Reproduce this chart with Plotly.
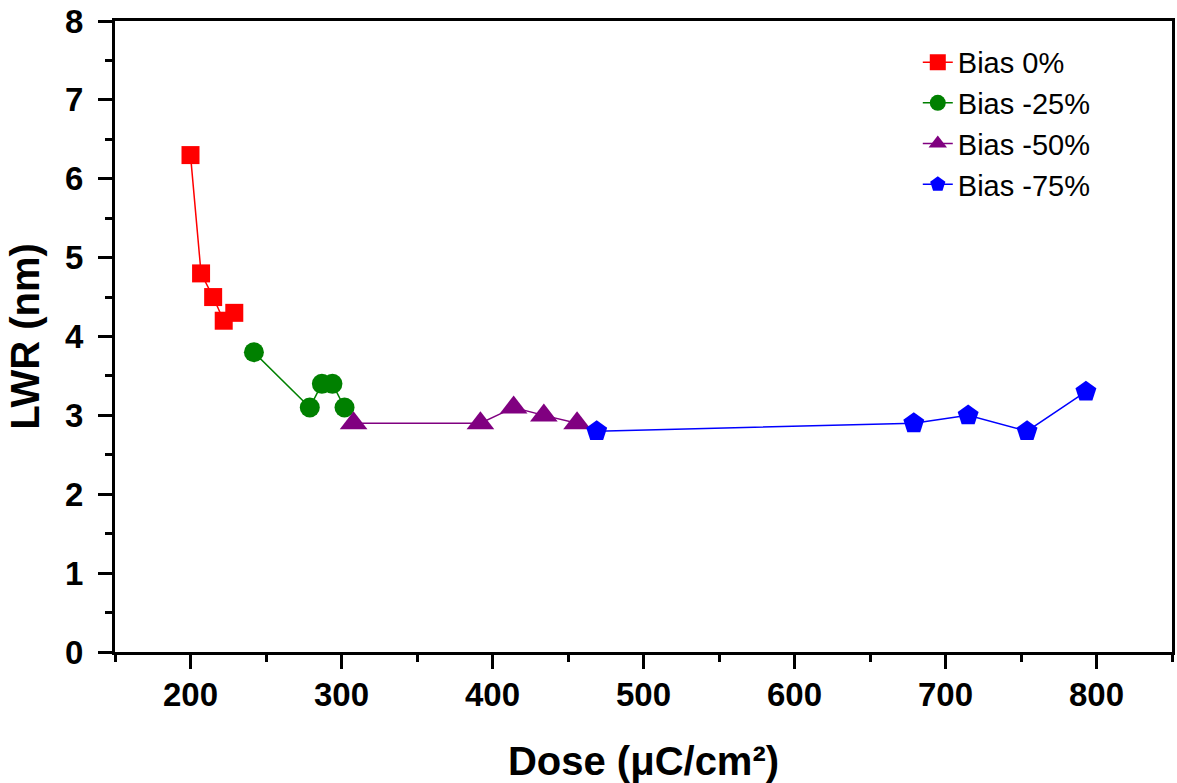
import plotly.graph_objects as go

# Data
series_names = ["Bias 0%", "Bias -25%", "Bias -50%", "Bias -75%"]
dose_bias0 = [200, 207, 215, 222, 229]
lwr_bias0 = [6.3, 4.8, 4.5, 4.2, 4.3]
dose_bias25 = [242, 279, 287, 294, 302]
lwr_bias25 = [3.8, 3.1, 3.4, 3.4, 3.1]
dose_bias50 = [308, 392, 414, 434, 456]
lwr_bias50 = [2.9, 2.9, 3.1, 3.0, 2.9]
dose_bias75 = [469, 679, 715, 754, 793]
lwr_bias75 = [2.8, 2.9, 3.0, 2.8, 3.3]

x_ticks = [200, 300, 400, 500, 600, 700, 800]
y_ticks = [0, 1, 2, 3, 4, 5, 6, 7, 8]

styles = [
    dict(color="#FF0000", symbol="square", size=18),
    dict(color="#008000", symbol="circle", size=20),
    dict(color="#800080", symbol="triangle-up", size=24),
    dict(color="#0000FF", symbol="pentagon", size=22),
]
xs = [dose_bias0, dose_bias25, dose_bias50, dose_bias75]
ys = [lwr_bias0, lwr_bias25, lwr_bias50, lwr_bias75]

FONT = "Liberation Sans, Arial, sans-serif"

fig = go.Figure()
for name, x, y, st in zip(series_names, xs, ys, styles):
    fig.add_trace(go.Scatter(
        x=x, y=y, name=name, mode="lines+markers",
        line=dict(color=st["color"], width=1.5),
        marker=dict(color=st["color"], symbol=st["symbol"], size=st["size"],
                    line=dict(width=0)),
    ))

axis_common = dict(
    showline=True, linecolor="black", linewidth=3, mirror=True,
    ticks="outside", ticklen=14, tickwidth=3, tickcolor="black",
    showgrid=False, zeroline=False, automargin=False,
    tickfont=dict(family=FONT, size=33, color="black", weight="bold"),
)

fig.update_layout(
    width=1177, height=783,
    margin=dict(l=115, r=5, t=21, b=131),
    paper_bgcolor="white", plot_bgcolor="white",
    font=dict(family=FONT, color="black"),
    xaxis=dict(
        range=[150, 850], tickvals=x_ticks,
        minor=dict(dtick=50, tick0=0, ticks="outside", ticklen=7,
                   tickwidth=3, tickcolor="black"),
        title=dict(text="Dose (μC/cm²)", standoff=36,
                   font=dict(family=FONT, size=40, color="black", weight="bold")),
        ticklabelstandoff=-3,
        **axis_common,
    ),
    yaxis=dict(
        range=[0, 8], tickvals=y_ticks,
        minor=dict(dtick=0.5, tick0=0, ticks="outside", ticklen=7,
                   tickwidth=3, tickcolor="black"),
        title=dict(text="LWR (nm)", standoff=14,
                   font=dict(family=FONT, size=40, color="black", weight="bold")),
        ticklabelstandoff=8,
        **axis_common,
    ),
    legend=dict(
        x=0.7595, y=0.975, xanchor="left", yanchor="top",
        bgcolor="rgba(0,0,0,0)", borderwidth=0,
        font=dict(family=FONT, size=29, color="black"),
        tracegroupgap=0, itemsizing="trace",
    ),
)

post = (
    "document.body.style.margin='0';"
    "document.body.style.padding='0';"
    "document.body.style.overflow='hidden';"
    "Plotly.relayout('{plot_id}', {width: 1177, height: 783});"
)

fig.write_html("out.html", post_script=post,
               config={"displayModeBar": False, "responsive": False})
